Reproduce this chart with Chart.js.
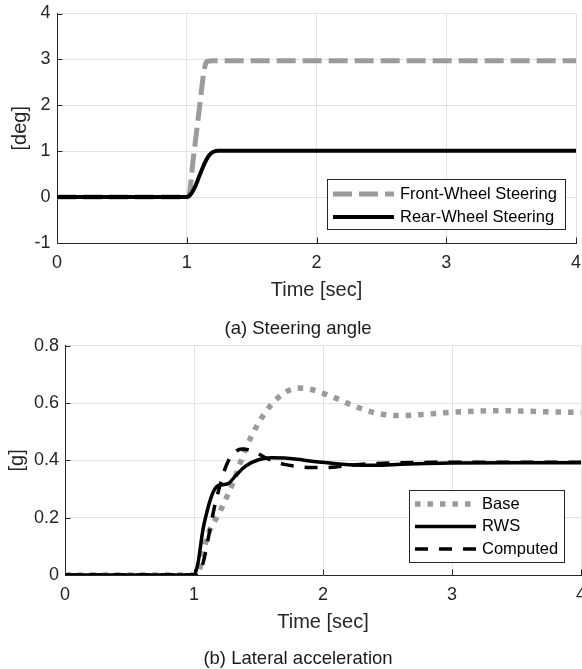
<!DOCTYPE html>
<html>
<head>
<meta charset="utf-8">
<script src="https://cdn.jsdelivr.net/npm/chart.js@4.4.1/dist/chart.umd.min.js"></script>
<style>
  html, body { margin: 0; padding: 0; background: #fff; }
  #page { position: relative; width: 582px; height: 669px; overflow: hidden; }
  canvas { position: absolute; left: 0; }
  #steerCanvas { top: 0; }
  #accCanvas { top: 335px; }
  .caption {
    position: absolute; left: 98px; width: 400px; text-align: center;
    font: 18.5px "Liberation Sans", Arial, sans-serif; line-height: 22px; color: #1a1a1a;
  }
</style>
</head>
<body>
<div id="page">
  <canvas id="steerCanvas" width="582" height="335"></canvas>
  <div class="caption" style="top:317px">(a) Steering angle</div>
  <canvas id="accCanvas" width="582" height="334"></canvas>
  <div class="caption" style="top:647px">(b) Lateral acceleration</div>
</div>
<script>
// ---- steering angle [deg] ----
const frontTime = [0, 1.0, 1.015, 1.05, 1.1, 1.13, 1.145, 1.16, 1.2, 4];
const frontDeg  = [0, 0,   0.02,  0.83, 1.99, 2.69, 2.9,  2.96, 2.97, 2.97];
const rearTime  = [0, 1.0, 1.03, 1.06, 1.1, 1.14, 1.17, 1.2, 1.24, 4];
const rearDeg   = [0, 0,   0.06, 0.2,  0.48, 0.75, 0.9, 0.98, 1.01, 1.01];

// ---- lateral acceleration [g] ----
const baseTime = [0, 1.0, 1.05, 1.1, 1.2, 1.3, 1.4, 1.5, 1.6, 1.7, 1.8, 1.9, 2.0, 2.1, 2.2, 2.4, 2.6, 2.8, 3.0, 3.2, 3.4, 3.6, 3.8, 4.0];
const baseAcc  = [0, 0,   0.03, 0.13, 0.22, 0.32, 0.44, 0.53, 0.595, 0.635, 0.652, 0.648, 0.634, 0.617, 0.597, 0.566, 0.556, 0.561, 0.568, 0.572, 0.573, 0.571, 0.569, 0.567];
const rwsTime  = [0, 1.0, 1.03, 1.07, 1.1, 1.14, 1.18, 1.22, 1.27, 1.32, 1.4, 1.5, 1.6, 1.7, 1.8, 1.9, 2.0, 2.1, 2.2, 2.4, 2.6, 2.8, 3.0, 3.5, 4.0];
const rwsAcc   = [0, 0,   0.04, 0.16, 0.22, 0.28, 0.31, 0.315, 0.32, 0.345, 0.38, 0.402, 0.409, 0.408, 0.404, 0.398, 0.393, 0.388, 0.385, 0.383, 0.386, 0.389, 0.391, 0.392, 0.392];
const compTime = [0, 1.0, 1.04, 1.08, 1.12, 1.16, 1.2, 1.24, 1.28, 1.32, 1.37, 1.42, 1.48, 1.55, 1.62, 1.7, 1.8, 1.9, 2.0, 2.1, 2.2, 2.4, 2.6, 3.0, 3.5, 4.0];
const compAcc  = [0, 0,   0.005, 0.06, 0.15, 0.24, 0.31, 0.37, 0.41, 0.43, 0.44, 0.437, 0.428, 0.41, 0.397, 0.386, 0.379, 0.375, 0.375, 0.377, 0.382, 0.389, 0.392, 0.393, 0.393, 0.393];

// ---- ticks ----
const timeTicks = [0, 1, 2, 3, 4];
const timeLabels = ['0', '1', '2', '3', '4'];
const degTicks = [-1, 0, 1, 2, 3, 4];
const degLabels = ['-1', '0', '1', '2', '3', '4'];
const accTicks = [0, 0.2, 0.4, 0.6, 0.8];
const accLabels = ['0', '0.2', '0.4', '0.6', '0.8'];

const axisColor = '#262626';
const gridColor = '#e2e2e2';
const gray = '#9b9b9b';

Chart.defaults.font.family = '"Liberation Sans", Arial, Helvetica, sans-serif';
Chart.defaults.color = axisColor;

const pts = (xs, ys) => xs.map((x, i) => ({ x, y: ys[i] }));

// short inward tick marks on the left and bottom axes
const innerTicks = {
  id: 'innerTicks',
  beforeDatasetsDraw(chart, args, opts) {
    const { ctx, chartArea: a, scales: { x, y } } = chart;
    ctx.save();
    ctx.strokeStyle = axisColor;
    ctx.lineWidth = 1;
    ctx.beginPath();
    x.ticks.forEach(t => {
      const px = Math.round(x.getPixelForValue(t.value)) + 0.5;
      ctx.moveTo(px, a.bottom);
      ctx.lineTo(px, a.bottom - opts.length);
    });
    y.ticks.forEach(t => {
      const py = Math.round(y.getPixelForValue(t.value)) + 0.5;
      ctx.moveTo(a.left, py);
      ctx.lineTo(a.left + opts.length, py);
    });
    ctx.stroke();
    ctx.restore();
  }
};

// boxed legend inside the plot, entries taken from the datasets
const boxLegend = {
  id: 'boxLegend',
  afterDraw(chart, args, o) {
    const ctx = chart.ctx;
    ctx.save();
    ctx.fillStyle = '#fff';
    ctx.fillRect(o.left, o.top, o.width, o.height);
    ctx.strokeStyle = axisColor;
    ctx.lineWidth = 1;
    ctx.strokeRect(o.left + 0.5, o.top + 0.5, o.width, o.height);
    ctx.font = '16.5px ' + Chart.defaults.font.family;
    ctx.textBaseline = 'middle';
    chart.data.datasets.forEach((ds, i) => {
      const yy = o.top + o.firstRow + i * o.rowGap;
      ctx.save();
      ctx.strokeStyle = ds.borderColor;
      ctx.lineWidth = ds.borderWidth;
      ctx.setLineDash(ds.borderDash || []);
      ctx.beginPath();
      ctx.moveTo(o.left + 6, yy);
      ctx.lineTo(o.left + 67, yy);
      ctx.stroke();
      ctx.restore();
      ctx.fillStyle = '#000';
      ctx.fillText(ds.label, o.left + 73, yy);
    });
    ctx.restore();
  }
};

function makeChart(canvas, c) {
  return new Chart(canvas, {
    type: 'line',
    data: { datasets: c.datasets },
    options: {
      responsive: false,
      animation: false,
      devicePixelRatio: 1,
      layout: { padding: { top: c.padTop, right: c.padRight, bottom: 0, left: 0 } },
      elements: { point: { radius: 0 }, line: { cubicInterpolationMode: 'monotone', borderCapStyle: 'butt' } },
      scales: {
        x: {
          type: 'linear', min: 0, max: 4,
          afterBuildTicks: s => { s.ticks = timeTicks.map(v => ({ value: v })); },
          afterFit: s => { s.height = c.xHeight; s.paddingLeft = 0; s.paddingRight = 0; },
          grid: { color: gridColor, drawTicks: false },
          border: { color: axisColor, width: 1 },
          ticks: { padding: c.xTickPad, font: { size: 18 }, maxRotation: 0, autoSkip: false,
                   callback: (v, i) => timeLabels[i] },
          title: { display: true, text: 'Time [sec]', font: { size: 20 },
                   padding: { top: 0, bottom: c.xTitlePad } }
        },
        y: {
          type: 'linear', min: c.yTicks[0], max: c.yTicks[c.yTicks.length - 1],
          afterBuildTicks: s => { s.ticks = c.yTicks.map(v => ({ value: v })); },
          afterFit: s => { s.width = c.yWidth; s.paddingTop = 0; s.paddingBottom = 0; },
          grid: { color: gridColor, drawTicks: false },
          border: { color: axisColor, width: 1 },
          ticks: { padding: c.yTickPad, font: { size: 18 }, autoSkip: false,
                   callback: (v, i) => c.yLabels[i] },
          title: { display: true, text: c.yTitle, font: { size: 20 },
                   padding: { top: c.yTitlePad, bottom: 0 } }
        }
      },
      plugins: {
        legend: { display: false },
        tooltip: { enabled: false },
        innerTicks: { length: 5.5 },
        boxLegend: c.legend
      }
    },
    plugins: [innerTicks, boxLegend]
  });
}

makeChart(document.getElementById('steerCanvas'), {
  datasets: [
    { label: 'Front-Wheel Steering', data: pts(frontTime, frontDeg), borderColor: gray,
      borderWidth: 5, borderDash: [19, 7], order: 1 },
    { label: 'Rear-Wheel Steering', data: pts(rearTime, rearDeg), borderColor: '#000',
      borderWidth: 4, order: 0 }
  ],
  padTop: 13.5, padRight: 6,
  xHeight: 92, xTickPad: 9.7, xTitlePad: 33,
  yWidth: 57, yTickPad: 6.5, yTitlePad: 8,
  yTicks: degTicks, yLabels: degLabels, yTitle: '[deg]',
  legend: { left: 327, top: 179, width: 238, height: 50, firstRow: 15, rowGap: 23 }
});

makeChart(document.getElementById('accCanvas'), {
  datasets: [
    { label: 'Base', data: pts(baseTime, baseAcc), borderColor: gray,
      borderWidth: 5.5, borderDash: [5.5, 7], order: 2 },
    { label: 'RWS', data: pts(rwsTime, rwsAcc), borderColor: '#000',
      borderWidth: 3.5, order: 1 },
    { label: 'Computed', data: pts(compTime, compAcc), borderColor: '#000',
      borderWidth: 3.5, borderDash: [13, 11], order: 0 }
  ],
  padTop: 10.7, padRight: 1,
  xHeight: 94, xTickPad: 9.2, xTitlePad: 35,
  yWidth: 65, yTickPad: 6, yTitlePad: 5.5,
  yTicks: accTicks, yLabels: accLabels, yTitle: '[g]',
  legend: { left: 409, top: 155, width: 155, height: 72, firstRow: 14, rowGap: 22.5 }
});
</script>
</body>
</html>
